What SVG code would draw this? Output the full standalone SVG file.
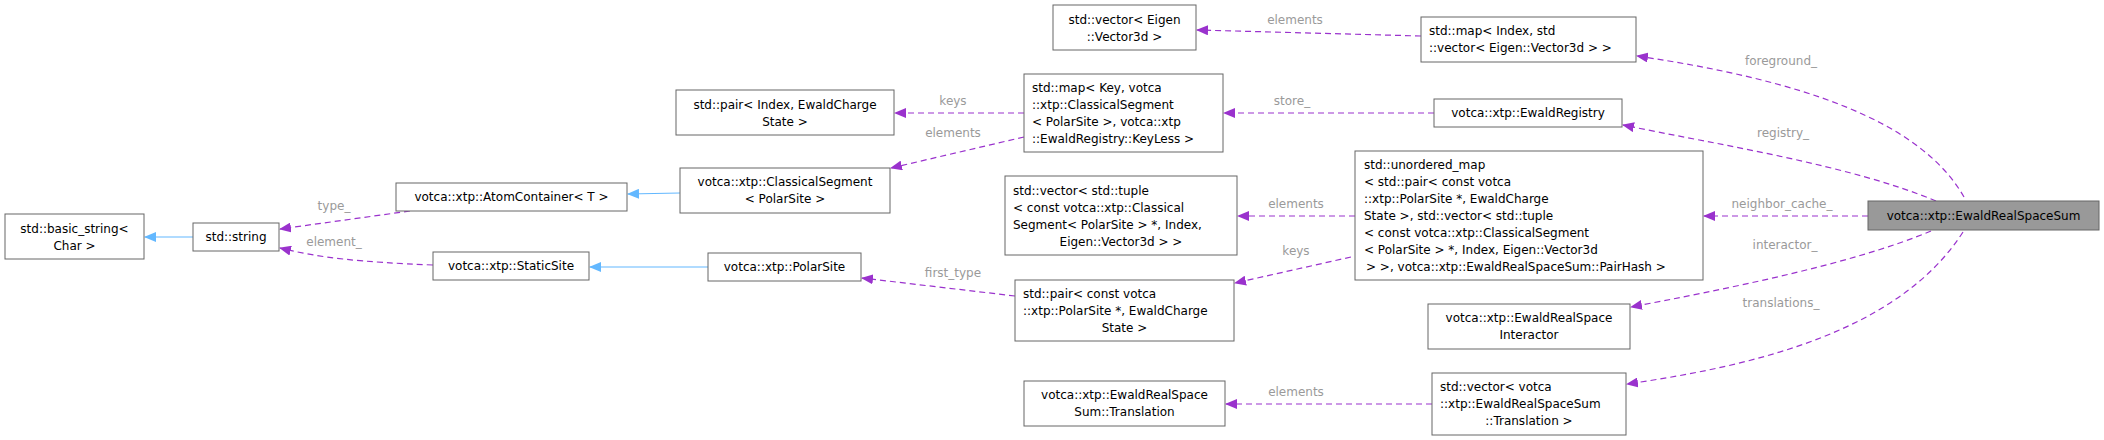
<svg xmlns="http://www.w3.org/2000/svg" width="2104" height="440" viewBox="0 0 2104 440">
<style>
rect{fill:#fff;stroke:#666;stroke-width:1}
text{font-family:"DejaVu Sans",sans-serif;font-size:12px;fill:#000}
.c{text-anchor:middle}
.l{font-size:12px;fill:#9a9a9a;text-anchor:middle}
.d{fill:none;stroke:#9a32cd;stroke-width:1.2;stroke-dasharray:6,4}
.b{fill:none;stroke:#63b8ff;stroke-width:1.2}
</style>
<defs>
<marker id="mp" markerWidth="12" markerHeight="10" refX="11" refY="5" orient="auto" markerUnits="userSpaceOnUse"><path d="M0,0 L12,5 L0,10 Z" fill="#9a32cd"/></marker>
<marker id="mb" markerWidth="12" markerHeight="10" refX="11" refY="5" orient="auto" markerUnits="userSpaceOnUse"><path d="M0,0 L12,5 L0,10 Z" fill="#63b8ff"/></marker>
</defs>
<g id="edges">
<path class="d" marker-end="url(#mp)" d="M1421,36 L1197,30"/>
<text class="l" x="1295" y="24">elements</text>
<path class="d" marker-end="url(#mp)" d="M1964,197 C1920,120 1800,80 1637,56"/>
<text class="l" x="1781" y="65">foreground_</text>
<path class="d" marker-end="url(#mp)" d="M1936,201 C1850,165 1720,145 1623,125"/>
<text class="l" x="1783" y="137">registry_</text>
<path class="d" marker-end="url(#mp)" d="M1434,113 L1224,113"/>
<text class="l" x="1292" y="105">store_</text>
<path class="d" marker-end="url(#mp)" d="M1868,216 L1704,216"/>
<text class="l" x="1782" y="208">neighbor_cache_</text>
<path class="d" marker-end="url(#mp)" d="M1931,231 C1850,265 1720,290 1631,307"/>
<text class="l" x="1785" y="249">interactor_</text>
<path class="d" marker-end="url(#mp)" d="M1963,232 C1900,330 1760,365 1627,384"/>
<text class="l" x="1781" y="307">translations_</text>
<path class="d" marker-end="url(#mp)" d="M1432,404 L1226,404"/>
<text class="l" x="1296" y="396">elements</text>
<path class="d" marker-end="url(#mp)" d="M1355,216 L1238,216"/>
<text class="l" x="1296" y="208">elements</text>
<path class="d" marker-end="url(#mp)" d="M1351,257 L1235,283"/>
<text class="l" x="1296" y="255">keys</text>
<path class="d" marker-end="url(#mp)" d="M1024,113 L895,113"/>
<text class="l" x="953" y="105">keys</text>
<path class="d" marker-end="url(#mp)" d="M1024,137 L891,168"/>
<text class="l" x="953" y="137">elements</text>
<path class="d" marker-end="url(#mp)" d="M1015,296 L862,278"/>
<text class="l" x="953" y="277">first_type</text>
<path class="b" marker-end="url(#mb)" d="M680,193 L628,194"/>
<path class="b" marker-end="url(#mb)" d="M708,267 L590,267"/>
<path class="d" marker-end="url(#mp)" d="M410,211 L280,229"/>
<text class="l" x="334" y="210">type_</text>
<path class="d" marker-end="url(#mp)" d="M433,265 C360,262 320,258 280,248"/>
<text class="l" x="334" y="246">element_</text>
<path class="b" marker-end="url(#mb)" d="M193,237 L145,237"/>
</g>
<g id="n1"><rect x="5" y="214" width="139" height="45"/><text class="c" x="74.5" y="233">std::basic_string&lt;</text><text class="c" x="74.5" y="250">Char &gt;</text></g>
<g id="n2"><rect x="193" y="223" width="86" height="28"/><text class="c" x="236" y="241">std::string</text></g>
<g id="n3"><rect x="396" y="183" width="231" height="28"/><text class="c" x="511.5" y="201">votca::xtp::AtomContainer&lt; T &gt;</text></g>
<g id="n4"><rect x="433" y="252" width="156" height="28"/><text class="c" x="511" y="270">votca::xtp::StaticSite</text></g>
<g id="n5"><rect x="680" y="168" width="210" height="45"/><text class="c" x="785" y="186">votca::xtp::ClassicalSegment</text><text class="c" x="785" y="203">&lt; PolarSite &gt;</text></g>
<g id="n6"><rect x="708" y="253" width="153" height="28"/><text class="c" x="784.5" y="271">votca::xtp::PolarSite</text></g>
<g id="n7"><rect x="676" y="90" width="218" height="45"/><text class="c" x="785" y="109">std::pair&lt; Index, EwaldCharge</text><text class="c" x="785" y="126">State &gt;</text></g>
<g id="n8"><rect x="1024" y="74" width="199" height="78"/><text x="1032" y="92">std::map&lt; Key, votca</text><text x="1032" y="109">::xtp::ClassicalSegment</text><text x="1032" y="126">&lt; PolarSite &gt;, votca::xtp</text><text x="1032" y="143">::EwaldRegistry::KeyLess &gt;</text></g>
<g id="n9"><rect x="1053" y="5" width="143" height="45"/><text class="c" x="1124.5" y="24">std::vector&lt; Eigen</text><text class="c" x="1124.5" y="41">::Vector3d &gt;</text></g>
<g id="n10"><rect x="1421" y="17" width="215" height="45"/><text x="1429" y="35">std::map&lt; Index, std</text><text x="1429" y="52">::vector&lt; Eigen::Vector3d &gt; &gt;</text></g>
<g id="n11"><rect x="1434" y="99" width="188" height="28"/><text class="c" x="1528" y="117">votca::xtp::EwaldRegistry</text></g>
<g id="n12"><rect x="1005" y="176" width="232" height="79"/><text x="1013" y="195">std::vector&lt; std::tuple</text><text x="1013" y="212">&lt; const votca::xtp::Classical</text><text x="1013" y="229">Segment&lt; PolarSite &gt; *, Index,</text><text class="c" x="1121" y="246">Eigen::Vector3d &gt; &gt;</text></g>
<g id="n13"><rect x="1355" y="151" width="348" height="129"/><text x="1364" y="169">std::unordered_map</text><text x="1364" y="186">&lt; std::pair&lt; const votca</text><text x="1364" y="203">::xtp::PolarSite *, EwaldCharge</text><text x="1364" y="220">State &gt;, std::vector&lt; std::tuple</text><text x="1364" y="237">&lt; const votca::xtp::ClassicalSegment</text><text x="1364" y="254">&lt; PolarSite &gt; *, Index, Eigen::Vector3d</text><text x="1366" y="271"> &gt; &gt;, votca::xtp::EwaldRealSpaceSum::PairHash &gt;</text></g>
<g id="n14"><rect x="1015" y="280" width="219" height="61"/><text x="1023" y="298">std::pair&lt; const votca</text><text x="1023" y="315">::xtp::PolarSite *, EwaldCharge</text><text class="c" x="1124.5" y="332">State &gt;</text></g>
<g id="n15"><rect x="1428" y="304" width="202" height="45"/><text class="c" x="1529" y="322">votca::xtp::EwaldRealSpace</text><text class="c" x="1529" y="339">Interactor</text></g>
<g id="n16"><rect x="1024" y="381" width="201" height="45"/><text class="c" x="1124.5" y="399">votca::xtp::EwaldRealSpace</text><text class="c" x="1124.5" y="416">Sum::Translation</text></g>
<g id="n17"><rect x="1432" y="373" width="194" height="62"/><text x="1440" y="391">std::vector&lt; votca</text><text x="1440" y="408">::xtp::EwaldRealSpaceSum</text><text class="c" x="1529" y="425">::Translation &gt;</text></g>
<g id="n18"><rect x="1868" y="201" width="231" height="29" style="fill:#999999"/><text class="c" x="1983.5" y="220">votca::xtp::EwaldRealSpaceSum</text></g>
</svg>
